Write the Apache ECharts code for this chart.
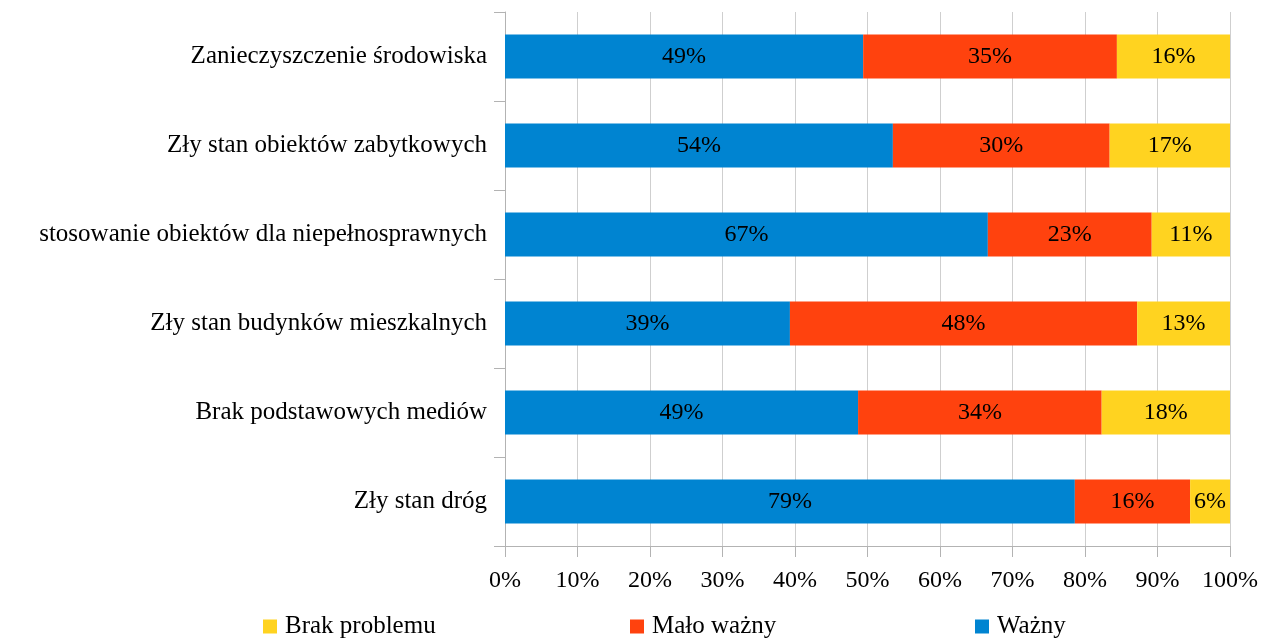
<!DOCTYPE html>
<html>
<head>
<meta charset="utf-8">
<script src="https://cdn.jsdelivr.net/npm/echarts@6/dist/echarts.min.js"></script>
<style>
  html, body { margin: 0; padding: 0; background: #fff; }
  #chart { width: 1267px; height: 639px; }
</style>
</head>
<body>
<div id="chart"></div>
<script>
// categories bottom -> top
const categories = [
    'Zły stan dróg',
    'Brak podstawowych mediów',
    'Zły stan budynków mieszkalnych',
    'stosowanie obiektów dla niepełnosprawnych',
    'Zły stan obiektów zabytkowych',
    'Zanieczyszczenie środowiska'
];
// shares in percent
const wazny = [78.6, 48.7, 39.3, 66.6, 53.5, 49.4];
const maloWazny = [15.9, 33.6, 47.9, 22.6, 29.9, 35.0];
const brakProblemu = [5.5, 17.7, 12.8, 10.8, 16.6, 15.6];
const xTicks = [0, 10, 20, 30, 40, 50, 60, 70, 80, 90, 100];

const font = '"Liberation Serif", "DejaVu Serif", serif';
const chart = echarts.init(document.getElementById('chart'));

const label = {
    show: true,
    position: 'inside',
    fontFamily: font,
    fontSize: 24,
    color: '#000',
    formatter: p => Math.round(p.value) + '%'
};

function bar(name, data, color) {
    return {
        name: name,
        type: 'bar',
        stack: 'total',
        barWidth: 44,
        data: data,
        itemStyle: { color: color },
        label: label,
        emphasis: { disabled: true }
    };
}

function legend(name, left) {
    return {
        data: [name],
        left: left,
        top: 609,
        icon: 'rect',
        itemWidth: 14,
        itemHeight: 14,
        itemGap: 0,
        textStyle: { fontFamily: font, fontSize: 25, color: '#000', padding: [0, 0, 0, 3] }
    };
}

const option = {
    animation: false,
    grid: { left: 505, right: 37, top: 12, bottom: 93, containLabel: false },
    legend: [
        legend('Brak problemu', 258),
        legend('Mało ważny', 625),
        legend('Ważny', 970)
    ],
    xAxis: {
        type: 'value',
        min: 0,
        max: 100,
        interval: 10,
        axisLine: { show: true, lineStyle: { color: '#b3b3b3' } },
        axisTick: { show: true, length: 11, lineStyle: { color: '#b3b3b3' } },
        splitLine: { show: true, lineStyle: { color: '#cfcfcf' } },
        axisLabel: {
            fontFamily: font,
            fontSize: 24,
            color: '#000',
            margin: 23,
            formatter: v => xTicks.includes(v) ? v + '%' : ''
        }
    },
    yAxis: {
        type: 'category',
        data: categories,
        axisLine: { show: true, lineStyle: { color: '#b3b3b3' } },
        axisTick: { show: true, length: 11, lineStyle: { color: '#b3b3b3' } },
        axisLabel: {
            fontFamily: font,
            fontSize: 25,
            color: '#000',
            margin: 18
        }
    },
    series: [
        bar('Ważny', wazny, '#0084d1'),
        bar('Mało ważny', maloWazny, '#ff420e'),
        bar('Brak problemu', brakProblemu, '#ffd320')
    ]
};

chart.setOption(option);
</script>
</body>
</html>
